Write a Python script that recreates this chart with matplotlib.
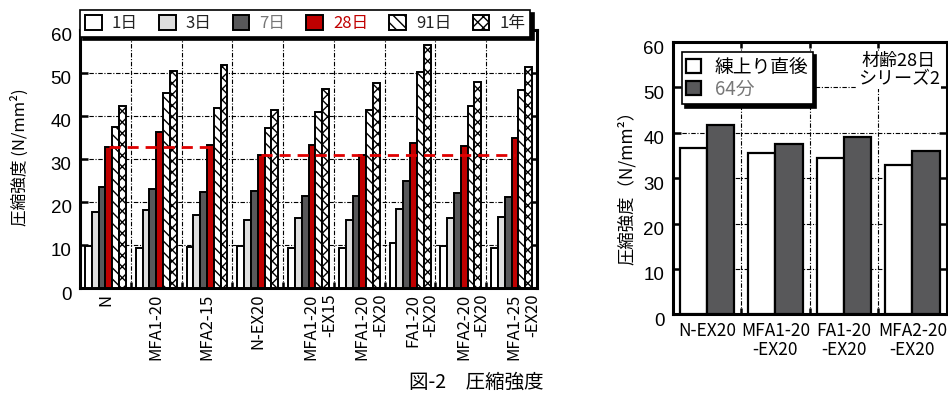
import matplotlib
matplotlib.use('Agg')
import matplotlib.pyplot as plt
import numpy as np
from matplotlib import font_manager
from matplotlib.transforms import ScaledTranslation, blended_transform_factory, offset_copy

JP = ['Noto Sans CJK JP', 'DejaVu Sans']
_names = {f.name for f in font_manager.fontManager.ttflist}
NUM = 'Liberation Sans Narrow' if 'Liberation Sans Narrow' in _names else 'Liberation Sans'
plt.rcParams.update({'font.family': JP, 'hatch.linewidth': 1.0, 'axes.linewidth': 2.2})

# ---- data: left chart (age series) ----
groups_a = ['N', 'MFA1-20', 'MFA2-15', 'N-EX20', 'MFA1-20\n-EX15', 'MFA1-20\n-EX20',
            'FA1-20\n-EX20', 'MFA2-20\n-EX20', 'MFA1-25\n-EX20']
ages = ['1日', '3日', '7日', '28日', '91日', '1年']
d1 = [9.8, 9.2, 9.6, 9.8, 9.2, 9.2, 10.5, 9.8, 9.2]
d3 = [17.6, 18.1, 17.0, 15.9, 16.2, 15.7, 18.3, 16.2, 16.6]
d7 = [23.4, 22.9, 22.2, 22.5, 21.4, 21.4, 24.8, 22.1, 21.1]
d28 = [32.8, 36.3, 33.3, 30.8, 33.3, 30.8, 33.6, 32.9, 34.8]
d91 = [37.3, 45.3, 41.8, 37.1, 40.8, 41.4, 50.1, 42.2, 45.9]
y1 = [42.2, 50.3, 51.9, 41.4, 46.2, 47.7, 56.5, 47.8, 51.3]
ref_spans = [(0, 2), (3, 8)]   # 28-day reference (base group -> last group)

# ---- data: right chart (series 2, age 28 days) ----
groups_b = ['N-EX20', 'MFA1-20\n-EX20', 'FA1-20\n-EX20', 'MFA2-20\n-EX20']
series_b = ['練上り直後', '64分']
mix0 = [36.6, 35.5, 34.5, 32.8]
mix64 = [41.8, 37.5, 39.0, 35.9]

RED = '#c00000'; DARK = '#58585a'; LIGHT = '#dedede'
styles = [dict(fc='white'), dict(fc=LIGHT), dict(fc=DARK), dict(fc=RED),
          dict(fc='white', hatch='\\\\\\'), dict(fc='white', hatch='xxx')]
txtcol = ['#222222', '#222222', '#777777', RED, '#222222', '#222222']
GRID = dict(color='black', lw=0.8, ls=(0, (4, 1.5, 1, 1.5)))

fig = plt.figure(figsize=(9.48, 3.94), dpi=100)
fig.patch.set_facecolor('white')

def frame(ax, n):
    ax.set_xlim(-0.5, n - 0.5); ax.set_ylim(0, 60)
    ax.set_yticks(np.arange(0, 61, 10))
    ax.set_xticks(np.arange(0.5, n - 0.5, 1)); ax.set_xticklabels([])
    ax.tick_params(axis='y', direction='in', length=6, width=1.8, left=True, right=True, pad=6)
    ax.tick_params(axis='x', direction='in', length=4, width=1.8, top=True, bottom=True)
    ax.grid(True, **GRID); ax.set_axisbelow(True)
    for lab in ax.get_yticklabels():
        lab.set_fontfamily(NUM); lab.set_fontsize(13.5)
        lab.set_transform(lab.get_transform() + ScaledTranslation(0, -0.05, fig.dpi_scale_trans))

# ---------------- left chart ----------------
ax = fig.add_axes([0.0844, 0.269, 0.4821, 0.6556])
frame(ax, len(groups_a))
x = np.arange(len(groups_a)); w = 0.134
for k, (vals, st) in enumerate(zip([d1, d3, d7, d28, d91, y1], styles)):
    ax.bar(x + (k - 2.5) * w, vals, w, ec='black', lw=1.4, zorder=3, label=ages[k], **st)
for a, b in ref_spans:
    ax.plot([x[a] + 0.5 * w, x[b] + 0.5 * w], [d28[a], d28[a]], color='#e00000', lw=2.0,
            ls=(0, (4, 2.5)), zorder=4)
tr = blended_transform_factory(ax.transData, ax.transAxes)
for i, g in enumerate(groups_a):
    nl = g.count('\n')
    t = offset_copy(tr, fig=fig, x=8.5 * nl, y=-4, units='points')
    ax.text(i, 0, g, transform=t, rotation=90, ha='center', va='top', multialignment='right',
            fontsize=12, linespacing=1.1)
fig.text(0.021, 0.60, '圧縮強度 (N/mm²)', rotation=90, ha='center', va='center', fontsize=12)
leg = ax.legend(loc='lower left', bbox_to_anchor=(0.0, 0.972, 0.985, 0.115), mode='expand',
                ncol=6, fontsize=12, frameon=True, fancybox=False, handlelength=1.0,
                handleheight=1.0, handletextpad=0.6, borderaxespad=0, borderpad=0.3,
                shadow={'color': 'black', 'alpha': 1.0, 'ox': 2.5, 'oy': -2.5})
leg.get_frame().set_edgecolor('black'); leg.get_frame().set_linewidth(1.2)
leg.set_zorder(10)
for t_, c in zip(leg.get_texts(), txtcol):
    t_.set_color(c)

# ---------------- right chart ----------------
bx = fig.add_axes([0.7096, 0.2023, 0.289, 0.6911])
frame(bx, len(groups_b))
xb = np.arange(len(groups_b)); wb = 0.40
bx.bar(xb - wb / 2, mix0, wb, fc='white', ec='black', lw=1.6, zorder=3, label=series_b[0])
bx.bar(xb + wb / 2, mix64, wb, fc=DARK, ec='black', lw=1.6, zorder=3, label=series_b[1])
tr2 = blended_transform_factory(bx.transData, bx.transAxes)
for i, g in enumerate(groups_b):
    bx.text(i, -0.03, g, transform=tr2, ha='center', va='top', multialignment='center',
            fontsize=12.5, linespacing=1.05)
fig.text(0.661, 0.535, '圧縮強度（N/mm²）', rotation=90, ha='center', va='center', fontsize=12.5)
leg2 = bx.legend(loc='upper left', bbox_to_anchor=(0.033, 0.964), fontsize=13.5, frameon=True,
                 fancybox=False, handlelength=0.8, handleheight=0.8, handletextpad=0.7,
                 borderaxespad=0, borderpad=0.25, labelspacing=0.05,
                 shadow={'color': 'black', 'alpha': 1.0, 'ox': 2.5, 'oy': -2.5})
leg2.get_frame().set_edgecolor('black'); leg2.get_frame().set_linewidth(1.2)
leg2.get_texts()[1].set_color('#777777')
bx.text(0.826, 0.897, '材齢28日\nシリーズ2', transform=bx.transAxes, ha='center', va='center',
        fontsize=13, linespacing=1.05, zorder=5,
        bbox=dict(fc='white', ec='none', pad=0.5))

fig.text(0.5026, 0.03, '図-2　圧縮強度', ha='center', va='center', fontsize=14)
fig.savefig('out.png', dpi=100, facecolor='white')
